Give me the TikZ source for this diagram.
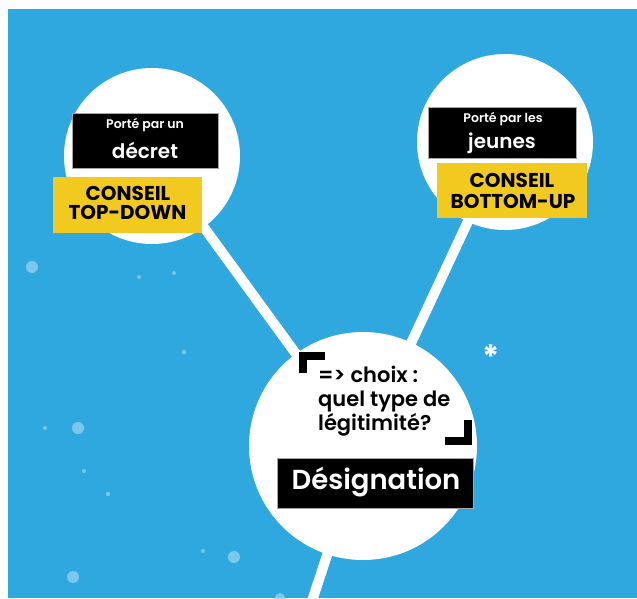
\documentclass[tikz,border=0pt]{standalone}
\usepackage{fontspec}
\setmainfont{Poppins}
\newfontfamily\semi{Poppins SemiBold}
\definecolor{bg}{HTML}{2EA8DF}
\definecolor{dotc}{HTML}{8FD0F0}
\definecolor{yel}{HTML}{F2C91E}
\begin{document}
\begin{tikzpicture}[x=1pt,y=-1pt,
  bubble/.style={circle,fill=white,inner sep=0},
  link/.style={white,line width=10pt},
  blackbox/.style={rectangle,fill=black,draw=gray!70,line width=0.6pt,inner sep=0},
  yelbox/.style={rectangle,fill=yel,inner sep=0},
  wtext/.style={text=white,anchor=base,inner sep=0},
  ktext/.style={text=black,anchor=base,inner sep=0},
  spot/.style={fill=dotc,opacity=0.8},
  bracket/.style={black,line width=7.5pt,line join=miter,line cap=butt}]
\useasboundingbox (0,0) rectangle (637,598);
\fill[white] (0,0) rectangle (637,598);
\fill[bg] (8,9) rectangle (637,598);
% dots
\foreach \x/\y/\r in {32/267/6,139/277/2,174/273/2,184/352/2.2,45/428/2,78/428/6,84/471/2,108/494/2.2,73/577/6,203/551/2,234/557/6,280/598/5}
  \fill[spot] (\x,\y) circle (\r);
% circle centres
\coordinate (cL) at (152,156);
\coordinate (cR) at (505,142);
\coordinate (cM) at (363,446);
\coordinate (tail) at (309,610);
\begin{scope}
\clip (8,9) rectangle (637,598);
\draw[link] (cL) -- (cM);
\draw[link] (cR) -- (cM);
\draw[link] (cM) -- (tail);
\end{scope}
\node[bubble,minimum size=176pt] (L) at (cL) {};
\node[bubble,minimum size=176pt] (R) at (cR) {};
\node[bubble,minimum size=228pt] (M) at (cM) {};
% left boxes
\node[blackbox,minimum width=146pt,minimum height=55pt] (Lb) at (145,140.5) {};
\node[wtext,font=\semi\fontsize{12.5}{14}\selectfont] (Lb1) at (145,128.5) {Porté par un};
\node[wtext,font=\semi\fontsize{20}{22}\selectfont] (Lb2) at (145,158) {décret};
\node[yelbox,minimum width=149pt,minimum height=56pt] (Ly) at (127.5,205) {};
\node[ktext,font=\bfseries\fontsize{20}{22}\selectfont] (Ly1) at (128,200) {CONSEIL};
\node[ktext,font=\bfseries\fontsize{20}{22}\selectfont] (Ly2) at (127.5,219) {TOP-DOWN};
% right boxes
\node[blackbox,minimum width=148pt,minimum height=51pt] (Rb) at (502,132.5) {};
\node[wtext,font=\semi\fontsize{12.5}{14}\selectfont] (Rb1) at (503,122.5) {Porté par les};
\node[wtext,font=\semi\fontsize{20}{22}\selectfont] (Rb2) at (502,148) {jeunes};
\node[yelbox,minimum width=150pt,minimum height=55pt] (Ry) at (512,190.5) {};
\node[ktext,font=\bfseries\fontsize{20}{22}\selectfont] (Ry1) at (512,187.5) {CONSEIL};
\node[ktext,font=\bfseries\fontsize{20}{22}\selectfont] (Ry2) at (513,208.5) {BOTTOM-UP};
% middle
\draw[bracket] (303,373) -- (303,355.75) -- (325,355.75);
\draw[bracket] (445,441) -- (468,441) -- (468,420);
\node[ktext,anchor=base west,font=\semi\fontsize{21}{24}\selectfont] (M1) at (318,382) {=> choix :};
\node[ktext,anchor=base west,font=\semi\fontsize{21}{24}\selectfont] (M2) at (318,406) {quel type de};
\node[ktext,anchor=base west,font=\semi\fontsize{21}{24}\selectfont] (M3) at (318,430) {légitimité?};
\node[blackbox,minimum width=196pt,minimum height=50pt] (Mb) at (375,483) {};
\node[wtext,font=\semi\fontsize{27.5}{30}\selectfont] (Mb1) at (376,489) {Désignation};
\node[text=white,inner sep=0,anchor=north,font=\bfseries\fontsize{32}{32}\selectfont] (star) at (491,345) {*};
\end{tikzpicture}
\end{document}
